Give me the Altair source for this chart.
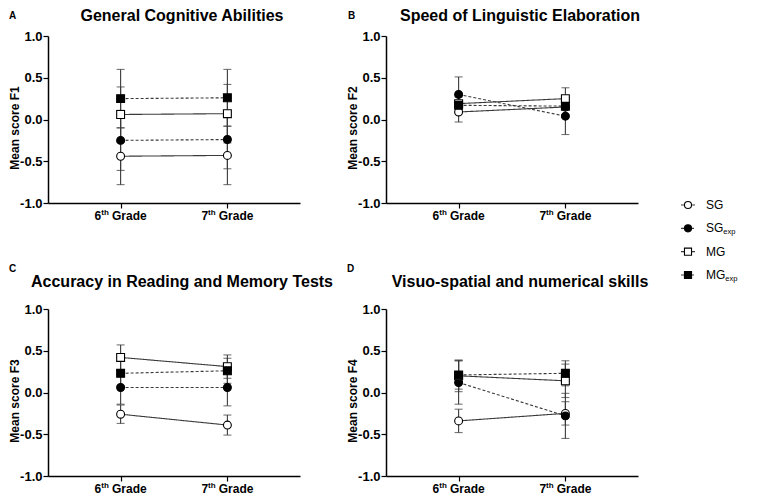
import altair as alt
import pandas as pd

FONT = "Liberation Sans"
LC = "#3a3a3a"

grades = ["6th Grade", "7th Grade"]
grade_numbers = ["6", "7"]
groups = ["SG", "SG_exp", "MG", "MG_exp"]
legend_main = ["SG", "SG", "MG", "MG"]
legend_sub = ["", "exp", "", "exp"]

panel_letters = ["A", "B", "C", "D"]
panel_titles = [
    "General Cognitive Abilities",
    "Speed of Linguistic Elaboration",
    "Accuracy in Reading and Memory Tests",
    "Visuo-spatial and numerical skills",
]
y_titles = ["Mean score F1", "Mean score F2", "Mean score F3", "Mean score F4"]

# mean scores [6th, 7th] per group
f1_means = {"SG": [-0.44, -0.43], "SG_exp": [-0.25, -0.24], "MG": [0.06, 0.07], "MG_exp": [0.25, 0.26]}
f1_errors = {"SG": [0.34, 0.35], "SG_exp": [0.36, 0.35], "MG": [0.33, 0.35], "MG_exp": [0.35, 0.34]}

f2_means = {"SG": [0.09, 0.15], "SG_exp": [0.30, 0.04], "MG": [0.19, 0.25], "MG_exp": [0.17, 0.16]}
f2_errors = {"SG": [0.12, 0.10], "SG_exp": [0.21, 0.22], "MG": [0.10, 0.13], "MG_exp": [0.10, 0.10]}

f3_means = {"SG": [-0.26, -0.39], "SG_exp": [0.06, 0.06], "MG": [0.42, 0.31], "MG_exp": [0.23, 0.26]}
f3_errors = {"SG": [0.11, 0.12], "SG_exp": [0.20, 0.22], "MG": [0.15, 0.14], "MG_exp": [0.15, 0.15]}

f4_means = {"SG": [-0.34, -0.25], "SG_exp": [0.12, -0.28], "MG": [0.20, 0.14], "MG_exp": [0.21, 0.23]}
f4_errors = {"SG": [0.14, 0.14], "SG_exp": [0.26, 0.27], "MG": [0.19, 0.20], "MG_exp": [0.17, 0.15]}

W, H = 252, 167

dash_scale = alt.Scale(domain=groups, range=[[1, 0], [3, 2], [1, 0], [3, 2]])
shape_scale = alt.Scale(domain=groups, range=["circle", "circle", "square", "square"])
fill_scale = alt.Scale(domain=groups, range=["white", "black", "white", "black"])


def panel(means, errors, letter, title, ytitle, letter_x, letter_y, title_y):
    rows = []
    for g in groups:
        for i, gr in enumerate(grades):
            m = means[g][i]
            e = errors[g][i]
            rows.append({"grade": gr, "group": g, "mean": m, "lo": m - e, "hi": m + e})
    df = pd.DataFrame(rows)
    lab_df = pd.DataFrame({"grade": grades, "num": grade_numbers, "sup": ["th", "th"], "word": ["Grade", "Grade"]})
    head_df = pd.DataFrame({"letter": [letter], "title": [title]})

    xscale = alt.Scale(type="point", domain=grades, padding=0.68)
    yscale = alt.Scale(domain=[-1, 1], nice=False, zero=False)
    xaxis = alt.Axis(title=None, labels=False, ticks=True, tickSize=5, tickColor="black",
                     tickWidth=1.2, domainColor="black", domainWidth=1.5, grid=False)
    yaxis = alt.Axis(title=ytitle, values=[-1, -0.5, 0, 0.5, 1],
                     labelExpr="(datum.value < 0 ? '-' : '') + format(abs(datum.value), '.1f')",
                     tickSize=5, tickColor="black", tickWidth=1.2, domainColor="black",
                     domainWidth=1.5, grid=False, labelFont=FONT, labelFontSize=13,
                     labelFontWeight="bold", labelColor="black", labelPadding=1,
                     titleFont=FONT, titleFontSize=12, titleFontWeight="bold",
                     titleColor="black", titleBaseline="alphabetic",
                     titleX=-30, titleY=H / 2 + 8)
    X = alt.X("grade:N", scale=xscale, axis=xaxis)

    base = alt.Chart(df)
    lines = base.mark_line(color=LC, strokeWidth=1.1).encode(
        x=X, y=alt.Y("mean:Q", scale=yscale, axis=yaxis), detail="group:N",
        strokeDash=alt.StrokeDash("group:N", scale=dash_scale, legend=None))
    bars = base.mark_rule(color=LC, strokeWidth=1.1).encode(
        x=X, y=alt.Y("lo:Q", scale=yscale, axis=yaxis), y2="hi:Q")
    caps = base.transform_fold(["lo", "hi"], as_=["end", "val"]).mark_tick(
        orient="horizontal", size=8, thickness=1.1, color=LC).encode(
        x=X, y=alt.Y("val:Q", scale=yscale, axis=yaxis))
    pts = base.mark_point(filled=True, opacity=1, stroke="black", strokeWidth=1.1, size=62).encode(
        x=X, y=alt.Y("mean:Q", scale=yscale, axis=yaxis),
        shape=alt.Shape("group:N", scale=shape_scale, legend=None),
        fill=alt.Fill("group:N", scale=fill_scale, legend=None))

    lab = alt.Chart(lab_df)
    t_num = lab.mark_text(align="left", baseline="alphabetic", font=FONT, fontSize=12,
                          fontWeight="bold", dx=-26, color="black").encode(
        x=X, y=alt.value(H + 17), text="num:N")
    t_sup = lab.mark_text(align="left", baseline="alphabetic", font=FONT, fontSize=8,
                          fontWeight="bold", dx=-19.3, color="black").encode(
        x=X, y=alt.value(H + 12), text="sup:N")
    t_word = lab.mark_text(align="left", baseline="alphabetic", font=FONT, fontSize=12,
                           fontWeight="bold", dx=-8.6, color="black").encode(
        x=X, y=alt.value(H + 17), text="word:N")

    hd = alt.Chart(head_df)
    t_letter = hd.mark_text(align="left", baseline="alphabetic", font=FONT, fontSize=10,
                            fontWeight="bold", color="black").encode(
        x=alt.value(letter_x), y=alt.value(letter_y), text="letter:N")
    t_title = hd.mark_text(align="center", baseline="alphabetic", font=FONT, fontSize=16,
                           fontWeight="bold", color="black").encode(
        x=alt.value(W / 2 + 8), y=alt.value(title_y), text="title:N")

    return alt.layer(lines, bars, caps, pts, t_num, t_sup, t_word, t_letter, t_title).properties(
        width=W, height=H)


pA = panel(f1_means, f1_errors, panel_letters[0], panel_titles[0], y_titles[0], -39, -17, -15)
pB = panel(f2_means, f2_errors, panel_letters[1], panel_titles[1], y_titles[1], -38, -17, -15)
pC = panel(f3_means, f3_errors, panel_letters[2], panel_titles[2], y_titles[2], -39, -37, -22)
pD = panel(f4_means, f4_errors, panel_letters[3], panel_titles[3], y_titles[3], -39, -37, -22)

leg_df = pd.DataFrame({"group": groups, "main": legend_main, "sub": legend_sub})
yL = alt.Y("group:N", scale=alt.Scale(type="point", domain=groups, range=[169, 239], padding=0),
           axis=None)
lb = alt.Chart(leg_df)
l_rule = lb.mark_rule(color=LC, strokeWidth=1.1).encode(
    x=alt.value(0), x2=alt.value(14), y=yL,
    strokeDash=alt.StrokeDash("group:N", scale=dash_scale, legend=None))
l_pts = lb.mark_point(filled=True, opacity=1, stroke="black", strokeWidth=1.1, size=50).encode(
    x=alt.value(7), y=yL,
    shape=alt.Shape("group:N", scale=shape_scale, legend=None),
    fill=alt.Fill("group:N", scale=fill_scale, legend=None))
l_main = lb.mark_text(align="left", baseline="middle", font=FONT, fontSize=12, color="black").encode(
    x=alt.value(25), y=yL, text="main:N")
l_sub_sg = lb.transform_filter("datum.group == 'SG_exp'").mark_text(
    align="left", baseline="middle", font=FONT, fontSize=7.5, dy=4, color="black").encode(
    x=alt.value(42.3), y=yL, text="sub:N")
l_sub_mg = lb.transform_filter("datum.group == 'MG_exp'").mark_text(
    align="left", baseline="middle", font=FONT, fontSize=7.5, dy=4, color="black").encode(
    x=alt.value(44.3), y=yL, text="sub:N")
legend = alt.layer(l_rule, l_pts, l_main, l_sub_sg, l_sub_mg).properties(width=55, height=240)

row1 = alt.hconcat(pA, pB, spacing=46)
row2 = alt.hconcat(pC, pD, spacing=12)
grid = alt.vconcat(row1, row2, spacing=42)

chart = alt.hconcat(grid, legend, spacing=31).properties(
    padding={"left": 0, "top": 0, "right": 0, "bottom": 0}
).configure(
    font=FONT,
    view=alt.ViewConfig(stroke="transparent", strokeWidth=0),
)

chart.save("out.html", embed_options={"renderer": "svg", "actions": False})
